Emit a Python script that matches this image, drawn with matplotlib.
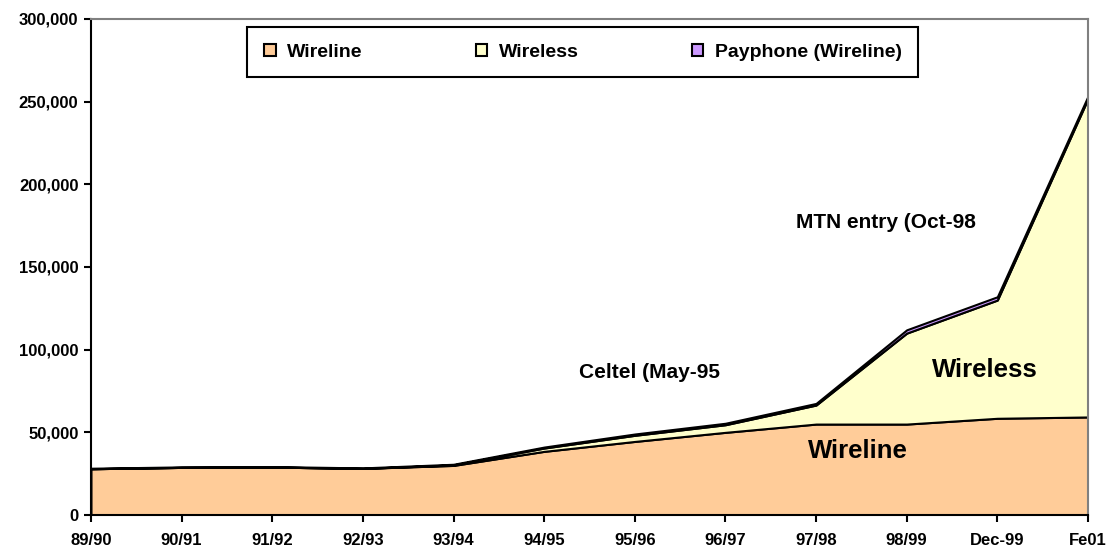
import matplotlib.pyplot as plt
from matplotlib.patches import Patch
from matplotlib.ticker import FuncFormatter

plt.rcParams["font.family"] = ["Liberation Sans", "DejaVu Sans"]
plt.rcParams["font.weight"] = "bold"

periods = ["89/90", "90/91", "91/92", "92/93", "93/94", "94/95",
           "95/96", "96/97", "97/98", "98/99", "Dec-99", "Fe01"]
wireline = [28000, 28800, 29000, 28200, 30000, 38500, 44500,
            50000, 55000, 55000, 58500, 59300]
wireless = [0, 0, 0, 0, 300, 2000, 3700, 4600, 11500, 55000, 71500, 192500]
payphone = [300, 300, 300, 300, 400, 600, 800, 900, 1000, 2000, 2000, 1500]

series_names = ["Wireline", "Wireless", "Payphone (Wireline)"]
colors = ["#FFCC99", "#FFFFCC", "#CC99FF"]

fig = plt.figure(figsize=(11.08, 5.5), dpi=100)
ax = fig.add_axes([0.0821, 0.0636, 0.8998, 0.9019])

x = list(range(len(periods)))
ax.stackplot(x, wireline, wireless, payphone, colors=colors,
             edgecolor="black", linewidth=1.5)

ax.set_xlim(0, len(periods) - 1)
ax.set_ylim(0, 300000)
ax.set_xticks(x)
ax.set_xticklabels(periods)
ax.set_yticks(range(0, 300001, 50000))
ax.yaxis.set_major_formatter(FuncFormatter(lambda v, p: f"{int(v):,}"))
ax.tick_params(axis="both", labelsize=12, width=1.5, length=5, direction="out")
ax.tick_params(axis="x", pad=8)
ax.tick_params(axis="y", pad=4)
for lbl in ax.get_xticklabels() + ax.get_yticklabels():
    lbl.set_fontweight("bold")

for side in ["left", "bottom"]:
    ax.spines[side].set_color("black")
    ax.spines[side].set_linewidth(1.5)
for side in ["top", "right"]:
    ax.spines[side].set_color("#808080")
    ax.spines[side].set_linewidth(1.5)

ax.text(5.39, 85900, "Celtel (May-95", fontsize=15, fontweight="bold",
        va="center", ha="left")
ax.text(7.78, 177000, "MTN entry (Oct-98", fontsize=15, fontweight="bold",
        va="center", ha="left")
ax.text(9.86, 87700, "Wireless", fontsize=18.5, fontweight="bold",
        va="center", ha="center")
ax.text(8.46, 38700, "Wireline", fontsize=18.5, fontweight="bold",
        va="center", ha="center")

handles = [Patch(facecolor=c, edgecolor="black", linewidth=1.5) for c in colors]
leg = ax.legend(handles, series_names, loc="center", ncol=3,
                bbox_to_anchor=(0.157, 0.881, 0.673, 0.103), mode="expand",
                fancybox=False, framealpha=1, edgecolor="black",
                prop={"size": 14, "weight": "bold"},
                handlelength=0.6, handleheight=0.6, handletextpad=0.6,
                borderpad=0.85, borderaxespad=0)
leg.get_frame().set_linewidth(1.5)

fig.savefig("out.png", dpi=100)
